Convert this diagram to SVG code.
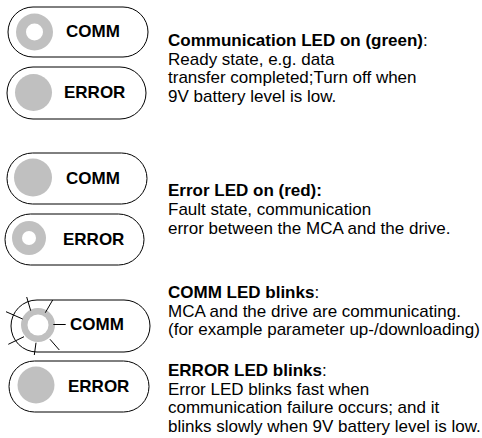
<svg xmlns="http://www.w3.org/2000/svg" width="482" height="438" viewBox="0 0 482 438">
<style>
.pill{fill:#fff;stroke:#000;stroke-width:1}
.led{fill:#c0c0c0}
.hole{fill:#fff}
.lbl{font-family:"Liberation Sans",Arial,sans-serif;font-size:17px;font-weight:bold;fill:#000}
.txt{font-family:"Liberation Sans",Arial,sans-serif;font-size:17px;fill:#000}
.b{font-weight:bold}
.ray{stroke:#000;stroke-width:1;fill:none}
</style>
<rect width="482" height="438" fill="#fff"/>
<g id="comm1">
<rect class="pill" x="8" y="7" width="140" height="50" rx="25"/>
<circle class="led" cx="34.5" cy="32" r="18.5"/>
<circle class="hole" cx="34.5" cy="32" r="8.5"/>
<text class="lbl" x="66" y="37">COMM</text>
</g>
<g id="error1">
<rect class="pill" x="7" y="67" width="139" height="52" rx="26"/>
<circle class="led" cx="33.5" cy="92.5" r="18.5"/>
<text class="lbl" x="64" y="98">ERROR</text>
</g>
<g id="comm2">
<rect class="pill" x="7" y="153" width="140" height="51" rx="25.5"/>
<circle class="led" cx="33" cy="177.5" r="19"/>
<text class="lbl" x="66" y="184">COMM</text>
</g>
<g id="error2">
<rect class="pill" x="5" y="214" width="139" height="51" rx="25.5"/>
<circle class="led" cx="29" cy="238" r="17"/>
<circle class="hole" cx="29" cy="238" r="7"/>
<text class="lbl" x="63" y="245">ERROR</text>
</g>
<g id="comm3">
<rect class="pill" x="11" y="300" width="139" height="52" rx="26"/>
<circle class="led" cx="38" cy="325" r="17"/>
<circle class="hole" cx="38" cy="325" r="10.5"/>
<text class="lbl" x="70" y="330">COMM</text>
</g>
<g id="error3">
<rect class="pill" x="9" y="361" width="140" height="51" rx="25.5"/>
<circle class="led" cx="36" cy="385" r="18.5"/>
<text class="lbl" x="68" y="392">ERROR</text>
</g>
<g id="connectors">
<line class="ray" x1="26.7" y1="297" x2="30.7" y2="310.7"/>
<line class="ray" x1="52.7" y1="300" x2="45.3" y2="312.7"/>
<line class="ray" x1="6" y1="311.7" x2="22.7" y2="319"/>
<line class="ray" x1="53.3" y1="324.5" x2="65.7" y2="324.5"/>
<line class="ray" x1="8.3" y1="344.3" x2="24" y2="336.7"/>
<line class="ray" x1="36" y1="342.7" x2="34.3" y2="355"/>
<line class="ray" x1="50" y1="339.3" x2="59.3" y2="350"/>
</g>
<g id="desc-comm-on">
<text class="txt" x="168" y="45.5"><tspan class="b">Communication LED on (green)</tspan>:</text>
<text class="txt" x="168" y="64.5">Ready state, e.g. data</text>
<text class="txt" x="168" y="83">transfer completed;Turn off when</text>
<text class="txt" x="168" y="101.5">9V battery level is low.</text>
</g>
<g id="desc-error-on">
<text class="txt b" x="168" y="196">Error LED on (red):</text>
<text class="txt" x="168" y="215">Fault state, communication</text>
<text class="txt" x="168" y="233.5">error between the MCA and the drive.</text>
</g>
<g id="desc-blinks">
<text class="txt" x="168" y="298"><tspan class="b">COMM LED blinks</tspan>:</text>
<text class="txt" x="168" y="316.5">MCA and the drive are communicating.</text>
<text class="txt" x="168" y="335">(for example parameter up-/downloading)</text>
<text class="txt" x="168" y="376"><tspan class="b">ERROR LED blinks</tspan>:</text>
<text class="txt" x="168" y="394.5">Error LED blinks fast when</text>
<text class="txt" x="168" y="413">communication failure occurs; and it</text>
<text class="txt" x="168" y="431.5">blinks slowly when 9V battery level is low.</text>
</g>
</svg>
